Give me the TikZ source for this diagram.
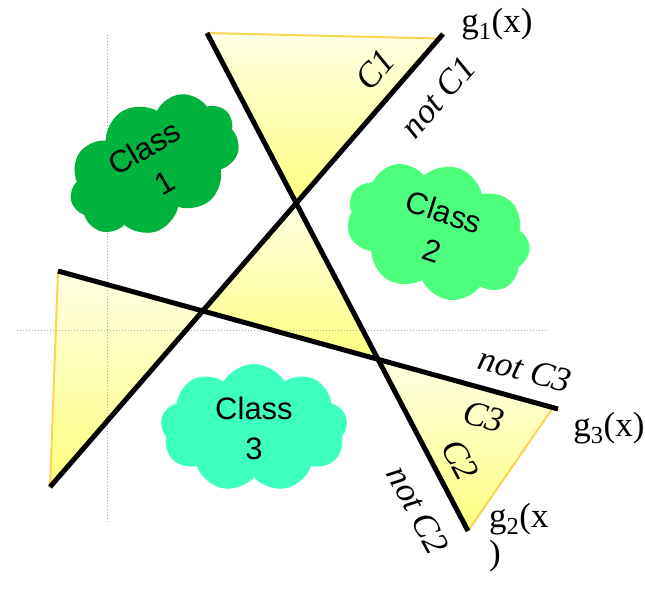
\documentclass[tikz,border=0pt]{standalone}
\usepackage{fontspec}
\setmainfont{Liberation Serif}
\setsansfont{Liberation Sans}
\usetikzlibrary{shapes.symbols,calc}
\definecolor{classa}{HTML}{00B33C}
\definecolor{classb}{HTML}{4DFF7C}
\definecolor{classc}{HTML}{3CFFC0}
\definecolor{gold}{HTML}{F8D64E}
\definecolor{grid}{HTML}{A6A6A6}
\tikzset{
  bound/.style={line width=5pt,draw=black},
  region/.style={top color=yellow!10,bottom color=yellow!50,draw=none},
  rim/.style={line width=2pt,draw=gold},
  guide/.style={dotted,line width=1pt,draw=grid},
  blob/.style={cloud,cloud puffs=9,cloud puff arc=120,cloud ignores aspect,inner sep=0pt,align=center,font=\sffamily\fontsize{31}{40}\selectfont},
  glab/.style={font=\fontsize{35}{37}\selectfont,inner sep=0pt},
  clab/.style={font=\itshape\fontsize{35}{37}\selectfont,inner sep=0pt}
}
\begin{document}
\begin{tikzpicture}[x=1pt,y=-1pt]
\useasboundingbox (0,0) rectangle (645,605);

\coordinate (g1a) at (50,487);
\coordinate (g1b) at (443,34);
\coordinate (g2a) at (207,33);
\coordinate (g2b) at (468,531);
\coordinate (g3a) at (58,271);
\coordinate (g3b) at (558,409);
\coordinate (x12) at (intersection of g1a--g1b and g2a--g2b);
\coordinate (x13) at (intersection of g1a--g1b and g3a--g3b);
\coordinate (x23) at (intersection of g2a--g2b and g3a--g3b);
\coordinate (t1) at ($(g1a)!0.99!(g1b)$);
\coordinate (t3) at ($(g3a)!0.99!(g3b)$);

\fill[region] (g2a) -- (t1) -- (x12) -- cycle;
\fill[region] (x12) -- (x13) -- (x23) -- cycle;
\fill[region] (g3a) -- (x13) -- (g1a) -- cycle;
\fill[region] (x23) -- (t3) -- (g2b) -- cycle;
\draw[rim] (g2a) -- (t1);
\draw[rim] (g3a) -- (g1a);
\draw[rim] (t3) -- (g2b);

\coordinate (vtop) at (107,35);
\coordinate (vbot) at (107,523);
\coordinate (hleft) at (17,330);
\coordinate (hright) at (548,330);
\draw[guide] (vtop) -- (vbot);
\draw[guide] (hleft) -- (hright);

\node[blob,fill=classa,rotate=30,minimum width=182pt,minimum height=125pt] (class1) at (154,165) {Class\\1};
\node[blob,fill=classb,rotate=-18,minimum width=188pt,minimum height=132pt] (class2) at (438,231) {Class\\2};
\node[blob,fill=classc,minimum width=187pt,minimum height=128pt] (class3) at (254,428) {Class\\3};

\draw[bound] (g1a) -- (g1b);
\draw[bound] (g2a) -- (g2b);
\draw[bound] (g3a) -- (g3b);

\node[glab] (lg1) at (497,24) {g\textsubscript{1}(x)};
\node[glab] (lg3) at (609,428) {g\textsubscript{3}(x)};
\node[glab,align=left,anchor=base west] (lg2) at (489,564) {g\textsubscript{2}(x\\)};

\node[clab,rotate=49] (c1) at (375,70) {C1};
\node[clab,rotate=49] (nc1) at (438,97) {not C1};
\node[clab,rotate=-15] (nc3) at (525,370) {not C3};
\node[clab,rotate=-15] (c3) at (484,417) {C3};
\node[clab,rotate=-62] (c2) at (460,460) {C2};
\node[clab,rotate=-62] (nc2) at (418,510) {not C2};
\end{tikzpicture}
\end{document}
